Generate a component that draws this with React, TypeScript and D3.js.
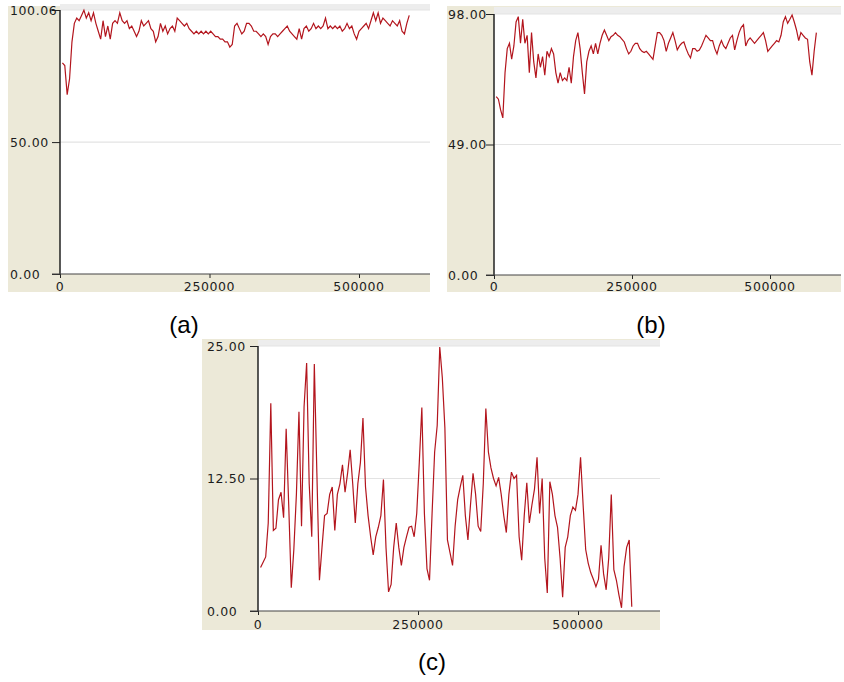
import { useEffect, useRef } from 'react';
import * as d3 from 'd3';

// samples are taken every 4000 steps, first one at 4000
const SAMPLE_STEP = 4000;
const X_TICKS = [0, 250000, 500000];

const seriesA = [
  80, 79, 68, 74, 88, 95, 97, 96, 98, 100,
  97, 99, 96, 99, 95, 92, 89, 96, 90, 94,
  89, 95, 96, 95, 99, 96, 95, 96, 93, 94,
  92, 90, 92, 96, 94, 95, 96, 93, 92, 88,
  90, 95, 92, 94, 91, 93, 94, 92, 97, 96,
  95, 94, 95, 93, 92, 91, 92, 91, 92, 91,
  92, 91, 92, 91, 90, 90, 89, 89, 88, 88,
  86, 87, 94, 95, 93, 91, 92, 95, 95, 94,
  92, 92, 91, 90, 91, 90, 87, 90, 91, 91,
  90, 91, 92, 93, 94, 92, 91, 90, 89, 93,
  89, 93, 94, 92, 93, 95, 93, 94, 93, 94,
  97, 93, 94, 93, 94, 93, 94, 92, 93, 95,
  93, 94, 91, 89, 92, 93, 94, 95, 93, 96,
  99, 96, 99, 95, 97, 96, 95, 94, 96, 95,
  94, 96, 92, 91, 95, 98,
];

const seriesB = [
  67, 66, 62, 59, 76, 85, 87, 81, 86, 95,
  97, 87, 96, 87, 90, 76, 91, 80, 74, 83,
  78, 82, 75, 84, 82, 85, 83, 76, 72, 76,
  73, 74, 73, 78, 72, 82, 88, 91, 85, 76,
  68, 80, 84, 86, 83, 87, 83, 87, 90, 92,
  90, 88, 89.5, 90, 91, 90, 89.5, 88.5, 87.5, 85,
  83, 84, 86, 87, 87, 85, 84, 83.5, 84, 83,
  82, 81, 86, 91, 91, 90, 88, 84, 87, 89,
  91, 88, 84.5, 86, 87, 87.5, 85, 83, 81.5, 85,
  85, 84, 84.5, 86, 88, 90, 89, 88, 88, 85,
  83, 86, 88, 86, 85, 87, 89, 90, 84.5, 88,
  91, 93, 94, 86, 88, 89, 88, 87, 88, 89,
  90, 91, 88, 84, 85, 86, 87, 88, 87.5, 90,
  95, 97, 94.5, 96, 97.6, 95, 92, 88, 91, 90,
  89, 88.5, 80, 75, 84, 91,
];

const seriesC = [
  4.1, 4.6, 5.1, 8.3, 19.6, 7.6, 7.8, 10.5, 11.2, 8.8,
  17.2, 10, 2.2, 5.8, 11, 18.8, 8, 19.3, 23.4, 12,
  7, 23.3, 13, 2.9, 6, 9, 9.2, 11, 11.7, 7.6,
  11, 12, 13.8, 11.2, 13, 15.2, 12, 8.3, 12, 14,
  18.2, 11.7, 9, 7, 5.3, 7, 7.9, 9, 12.4, 6,
  1.8, 2.5, 6, 8.3, 6, 4.3, 6, 7, 7.9, 8,
  7, 9.2, 14, 19.2, 9.2, 4, 2.9, 9.2, 15, 17.5,
  24.9, 22, 17.3, 6.7, 5.5, 4.3, 8, 10.5, 11.7, 12.8,
  9, 6.7, 10, 13, 11, 8, 7.5, 12, 19.1, 15,
  13.5, 12.5, 11.8, 12.6, 11, 9, 7.4, 11, 13.1, 12.5,
  12.8, 7, 4.8, 9, 12.1, 8.3, 10, 11.5, 14.5, 9.2,
  12.5, 5, 1.7, 12.2, 11, 9, 7.9, 5, 1.3, 6,
  7, 9, 9.8, 9.5, 11, 14.5, 10, 5.8, 4.5, 3.6,
  3, 2.3, 3, 6.2, 3.5, 2, 5, 11, 3.9, 2.9,
  1.5, 0.3, 4.2, 6, 6.7, 0.4,
];

const yTicksA = [0, 50, 100.06];
const yTicksB = [0, 49, 98];
const yTicksC = [0, 12.5, 25];
const panelNames = ['(a)', '(b)', '(c)'];

const BEIGE = '#ece9d8';
const LINE = '#b3151d';

const panels = [
  { values: seriesA, ticks: yTicksA, name: panelNames[0],
    bg: [8, 6, 430, 292], strip: 4, left: 60, right: 430, top: 10, bottom: 274, x500: 359,
    labelX: 10, xLabelY: 286, nameX: 184, nameY: 333 },
  { values: seriesB, ticks: yTicksB, name: panelNames[1],
    bg: [447, 6, 841, 292], strip: 7, left: 494, right: 841, top: 14, bottom: 275, x500: 770,
    labelX: 448, xLabelY: 286, nameX: 651, nameY: 333 },
  { values: seriesC, ticks: yTicksC, name: panelNames[2],
    bg: [202, 339, 660, 630], strip: 340, left: 258, right: 660, top: 346, bottom: 611, x500: 578,
    labelX: 207, xLabelY: 624, nameX: 432, nameY: 670 },
];

const drawPanel = (svg, p) => {
  const g = svg.append('g');
  const [bx0, by0, bx1, by1] = p.bg;

  g.append('rect').attr('x', bx0).attr('y', by0)
    .attr('width', bx1 - bx0).attr('height', by1 - by0).attr('fill', BEIGE);
  //light strip above the plot
  g.append('rect').attr('x', p.left).attr('y', p.strip)
    .attr('width', p.right - p.left).attr('height', p.top - p.strip).attr('fill', '#ededed');
  g.append('rect').attr('x', p.left).attr('y', p.top)
    .attr('width', p.right - p.left).attr('height', p.bottom - p.top).attr('fill', '#fff');

  const x = d3.scaleLinear().domain([0, 500000]).range([p.left, p.x500]);
  const yMax = p.ticks[p.ticks.length - 1];
  const y = d3.scaleLinear().domain([0, yMax]).range([p.bottom, p.top]);

  //grid
  g.append('g').selectAll('line')
    .data(p.ticks.filter(t => t > 0))
    .enter().append('line')
    .attr('x1', p.left).attr('x2', p.right)
    .attr('y1', d => y(d)).attr('y2', d => y(d))
    .attr('stroke', '#e3e3e3').attr('stroke-width', 1.2);

  //series
  const line = d3.line().x((d, i) => x((i + 1) * SAMPLE_STEP)).y(d => y(d));
  g.append('path')
    .datum(p.values)
    .attr('d', line)
    .attr('fill', 'none')
    .attr('stroke', LINE)
    .attr('stroke-width', 1.2)
    .attr('stroke-linejoin', 'miter');

  //axes
  const yAxis = g.append('g')
    .attr('transform', `translate(${p.left},0)`)
    .call(d3.axisLeft(y).tickValues(p.ticks).tickSize(8).tickSizeOuter(0).tickFormat(() => ''));
  yAxis.select('.domain').remove();
  yAxis.selectAll('line').attr('stroke', '#222');

  const xAxis = g.append('g')
    .attr('transform', `translate(0,${p.bottom})`)
    .call(d3.axisBottom(x).tickValues(X_TICKS).tickSize(4).tickSizeOuter(0).tickFormat(() => ''));
  xAxis.select('.domain').remove();
  xAxis.selectAll('line').attr('stroke', '#222');

  g.append('line').attr('x1', p.left).attr('x2', p.left)
    .attr('y1', p.top).attr('y2', p.bottom).attr('stroke', '#222').attr('stroke-width', 1.5);
  g.append('line').attr('x1', p.left - 8).attr('x2', p.right)
    .attr('y1', p.bottom).attr('y2', p.bottom).attr('stroke', '#444').attr('stroke-width', 1.2);

  const fmt = d3.format('.2f');
  g.append('g').selectAll('text')
    .data(p.ticks)
    .enter().append('text')
    .attr('x', p.labelX)
    .attr('y', d => y(d))
    .attr('dy', '0.36em')
    .text(d => fmt(d))
    .style('font-family', 'DejaVu Sans')
    .style('font-size', '12.5px')
    .style('letter-spacing', '0.6px')
    .attr('fill', '#1c1c1c');

  g.append('g').selectAll('text')
    .data(X_TICKS)
    .enter().append('text')
    .attr('x', d => x(d))
    .attr('y', p.xLabelY)
    .attr('dy', '0.36em')
    .attr('text-anchor', 'middle')
    .text(d => d)
    .style('font-family', 'DejaVu Sans')
    .style('font-size', '12.5px')
    .style('letter-spacing', '0.6px')
    .attr('fill', '#1c1c1c');

  g.append('text')
    .attr('x', p.nameX)
    .attr('y', p.nameY)
    .attr('text-anchor', 'middle')
    .text(p.name)
    .style('font-family', 'Liberation Sans, Arial')
    .style('font-size', '24px')
    .attr('fill', '#000');
};

const App = () => {
  const svgRef = useRef(null);

  useEffect(() => {
    const svg = d3.select(svgRef.current);
    svg.selectAll('*').remove();
    panels.forEach(p => drawPanel(svg, p));
  }, []);

  return (
    <svg ref={svgRef} width={844} height={682}
      style={{ position: 'absolute', left: 0, top: 0, background: '#fff' }}></svg>
  );
};

export default App;
